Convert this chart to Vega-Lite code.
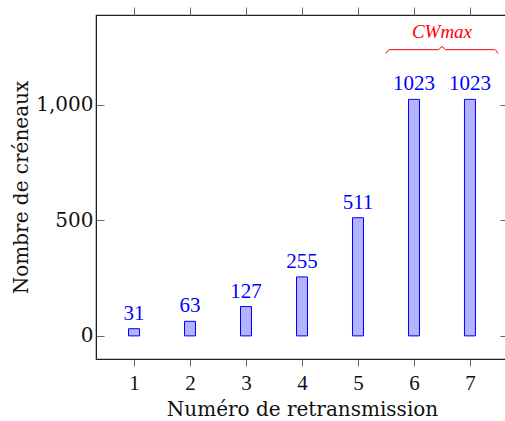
{
  "$schema": "https://vega.github.io/schema/vega-lite/v6.json",
  "autosize": "none",
  "padding": {"left": 96, "top": 15, "right": 0, "bottom": 62},
  "width": 412,
  "height": 344,
  "config": {
    "view": {"stroke": "#222", "strokeWidth": 1.2},
    "font": "Liberation Serif",
    "axis": {
      "grid": false,
      "domainColor": "#222",
      "tickColor": "#666",
      "labelFont": "Liberation Serif",
      "titleFont": "DejaVu Serif",
      "labelFontSize": 21,
      "titleFontSize": 20,
      "labelColor": "#111",
      "titleColor": "#111",
      "titleFontWeight": "normal"
    }
  },
  "datasets": {
    "bars": [
      {"n": 1, "v": 31},
      {"n": 2, "v": 63},
      {"n": 3, "v": 127},
      {"n": 4, "v": 255},
      {"n": 5, "v": 511},
      {"n": 6, "v": 1023},
      {"n": 7, "v": 1023}
    ],
    "brace": [
      {"x": 5.5, "y": 1222},
      {"x": 5.56, "y": 1238},
      {"x": 6.44, "y": 1238},
      {"x": 6.5, "y": 1252},
      {"x": 6.56, "y": 1238},
      {"x": 7.44, "y": 1238},
      {"x": 7.5, "y": 1222}
    ],
    "ann": [{"x": 6.5, "y": 1313, "t": "CWmax"}]
  },
  "layer": [
    {
      "data": {"name": "bars"},
      "mark": {"type": "bar", "width": 11, "fill": "#b3b3ff", "stroke": "#0000ff", "strokeWidth": 1},
      "encoding": {
        "x": {
          "field": "n", "type": "quantitative",
          "scale": {"domain": [0.41, 7.59], "nice": false, "zero": false},
          "axis": {"orient": "bottom", "values": [1,2,3,4,5,6,7], "tickSize": 7, "labelPadding": 6, "title": "Numéro de retransmission", "titlePadding": 6}
        },
        "y": {
          "field": "v", "type": "quantitative",
          "scale": {"domain": [-100, 1388], "nice": false, "zero": false},
          "axis": {"orient": "left", "values": [0, 500, 1000], "format": ",d", "labelFont": "DejaVu Serif", "labelFontSize": 20, "tickSize": -8, "labelPadding": 11, "title": "Nombre de créneaux", "titlePadding": 4}
        }
      }
    },
    {
      "data": {"name": "bars"},
      "mark": {"type": "text", "color": "#0000ff", "fontSize": 21, "font": "Liberation Serif", "baseline": "alphabetic", "dy": -9},
      "encoding": {
        "x": {"field": "n", "type": "quantitative", "axis": null},
        "y": {"field": "v", "type": "quantitative", "axis": null},
        "text": {"field": "v", "type": "nominal"}
      }
    },
    {
      "data": {"name": "bars"},
      "mark": {"type": "point", "opacity": 0},
      "encoding": {
        "x": {"field": "n", "type": "quantitative", "axis": {"orient": "top", "values": [1,2,3,4,5,6,7], "labels": false, "tickSize": 8, "title": null, "domain": false}},
        "y": {"field": "v", "type": "quantitative", "axis": {"orient": "right", "values": [0, 500, 1000], "labels": false, "tickSize": -8, "title": null, "domain": false}}
      }
    },
    {
      "data": {"name": "brace"},
      "mark": {"type": "line", "color": "#ff0000", "strokeWidth": 1, "interpolate": "monotone"},
      "encoding": {
        "x": {"field": "x", "type": "quantitative", "axis": null},
        "y": {"field": "y", "type": "quantitative", "axis": null}
      }
    },
    {
      "data": {"name": "ann"},
      "mark": {"type": "text", "color": "#ff0000", "fontSize": 19, "fontStyle": "italic", "font": "Liberation Serif", "baseline": "middle"},
      "encoding": {
        "x": {"field": "x", "type": "quantitative", "axis": null},
        "y": {"field": "y", "type": "quantitative", "axis": null},
        "text": {"field": "t"}
      }
    }
  ],
  "resolve": {"axis": {"x": "independent", "y": "independent"}}
}
